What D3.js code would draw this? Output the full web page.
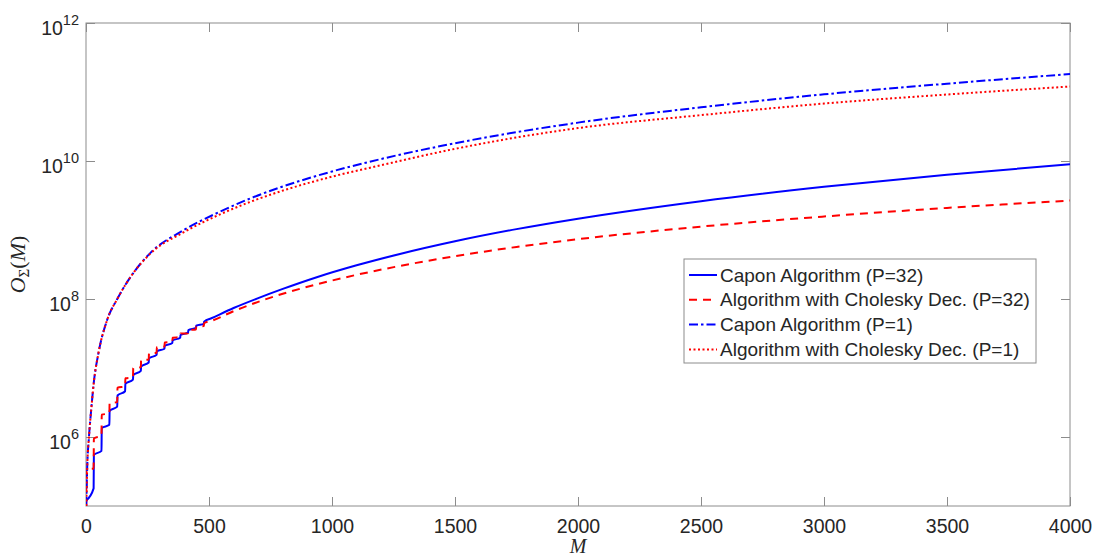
<!DOCTYPE html>
<meta charset="utf-8">
<html lang="en">
<head>
<meta charset="utf-8">
<title>Complexity vs M</title>
<script src="https://cdn.jsdelivr.net/npm/d3@7/dist/d3.min.js"></script>
<style type="text/css">
body { margin: 0; background: #fff; }
.axis text { font-family: "Liberation Sans", Arial, sans-serif; fill: #262626; }
.axis line { stroke: #8c8c8c; }
.frame { fill: none; stroke: #8c8c8c; stroke-width: 1px; }
.series { fill: none; stroke-width: 2px; }
.legend text { font-family: "Liberation Sans", Arial, sans-serif; font-size: 19px; fill: #262626; }
.label { font-family: "Liberation Serif", "DejaVu Serif", serif; fill: #262626; }
</style>
</head>
<body>
<div id="chart"></div>
<script type="text/javascript">
"use strict";

var width = 1095, height = 557;
var plotLeft = 86, plotRight = 1070, plotTop = 23, plotBottom = 506;

// data: [M, O(M)]
var caponP32 = [
  [1, 1.2e5], [31, 1.8e5], [32, 5.5e5], [63, 6.3e5], [64, 1.35e6], [95, 1.5e6],
  [96, 2.4e6], [127, 2.75e6], [128, 4.0e6], [159, 4.6e6], [160, 5.9e6], [191, 6.8e6],
  [192, 7.9e6], [223, 9.1e6], [224, 1.05e7], [255, 1.2e7], [256, 1.38e7], [287, 1.55e7],
  [288, 1.74e7], [319, 1.9e7], [320, 2.1e7], [351, 2.3e7], [352, 2.5e7], [383, 2.75e7],
  [384, 3.0e7], [415, 3.25e7], [416, 3.55e7], [447, 3.8e7], [448, 4.1e7], [479, 4.35e7],
  [480, 4.7e7], [512, 5.3e7], [600, 7.4e7], [700, 1.03e8], [800, 1.4e8],
  [938, 2.07e8], [1100, 3.08e8], [1276, 4.5e8], [1500, 6.87e8], [1750, 1.03e9], [2000, 1.46e9],
  [2500, 2.62e9], [3000, 4.23e9], [3500, 6.32e9], [4000, 8.98e9]
];
var choleskyP32 = [
  [1, 1.0e5], [2, 3.4e5], [31, 3.5e5], [32, 9.5e5], [63, 1.05e6], [64, 2.1e6], [95, 2.2e6],
  [96, 3.1e6], [127, 3.2e6], [128, 5.2e6], [159, 5.4e6], [160, 7.1e6], [191, 7.3e6],
  [192, 1.0e7], [223, 1.03e7], [224, 1.3e7], [255, 1.33e7], [256, 1.62e7], [287, 1.66e7],
  [288, 2.0e7], [319, 2.05e7], [320, 2.35e7], [351, 2.4e7], [352, 2.75e7], [383, 2.8e7],
  [384, 3.15e7], [415, 3.2e7], [416, 3.55e7], [447, 3.6e7], [448, 4.0e7], [479, 4.05e7],
  [480, 4.45e7], [512, 4.85e7], [600, 6.67e7], [700, 9.1e7], [800, 1.19e8],
  [938, 1.63e8], [1100, 2.24e8], [1256, 2.92e8], [1500, 4.17e8], [1750, 5.68e8], [2000, 7.36e8],
  [2500, 1.12e9], [3000, 1.57e9], [3500, 2.09e9], [4000, 2.67e9]
];
var caponP1 = [
  [1, 1.0e5], [5, 3.7e5], [12, 1.0e6], [21, 2.45e6], [32, 6.3e6], [50, 1.6e7], [87, 5.1e7],
  [127, 1.0e8], [195, 2.45e8], [263, 4.7e8], [398, 1.0e9], [534, 1.77e9], [667, 2.86e9],
  [805, 4.33e9], [1000, 7.05e9], [1200, 1.07e10], [1500, 1.81e10], [2000, 3.6e10],
  [2500, 6.0e10], [3000, 9.25e10], [3500, 1.32e11], [4000, 1.82e11]
];
var choleskyP1 = [
  [1, 1.0e5], [5, 3.7e5], [12, 1.0e6], [21, 2.45e6], [32, 6.3e6], [50, 1.6e7], [87, 5.1e7],
  [127, 1.0e8], [195, 2.45e8], [263, 4.6e8], [398, 9.3e8], [534, 1.62e9], [667, 2.55e9],
  [805, 3.77e9], [1000, 5.93e9], [1200, 8.7e9], [1500, 1.5e10], [2000, 3.0e10],
  [2500, 4.62e10], [3000, 6.8e10], [3500, 9.2e10], [4000, 1.2e11]
];

var xTicks = [0, 500, 1000, 1500, 2000, 2500, 3000, 3500, 4000];
var yTicks = [1e6, 1e8, 1e10, 1e12];

var legendLabels = [
  "Capon Algorithm (P=32)",
  "Algorithm with Cholesky Dec. (P=32)",
  "Capon Algorithm (P=1)",
  "Algorithm with Cholesky Dec. (P=1)"
];

var series = [
  {data: caponP32, color: "#0000ff", dash: null},
  {data: choleskyP32, color: "#ff0000", dash: "8,6"},
  {data: caponP1, color: "#0000ff", dash: "9,3,2.5,3"},
  {data: choleskyP1, color: "#ff0000", dash: "2,2.5"}
];

var x = d3.scaleLinear().domain([0, 4000]).range([plotLeft, plotRight]);
var y = d3.scaleLog().domain([1e5, 1e12]).range([plotBottom, plotTop]);

var svg = d3.select("#chart").append("svg")
    .attr("width", width)
    .attr("height", height);

svg.append("defs").append("clipPath").attr("id", "plotclip")
  .append("rect")
    .attr("x", plotLeft).attr("y", plotTop)
    .attr("width", plotRight - plotLeft).attr("height", plotBottom - plotTop);

// axes, ticks pointing inward on all four sides
var gx = svg.append("g").attr("class", "axis")
    .attr("transform", "translate(0," + plotBottom + ")")
    .call(d3.axisBottom(x).tickValues(xTicks).tickSize(-9).tickPadding(13).tickFormat(d3.format("d")));
gx.selectAll("text").style("font-size", "19.5px");

svg.append("g").attr("class", "axis")
    .attr("transform", "translate(0," + plotTop + ")")
    .call(d3.axisTop(x).tickValues(xTicks).tickSize(-9).tickFormat(""));

var gy = svg.append("g").attr("class", "axis")
    .attr("transform", "translate(" + plotLeft + ",0)")
    .call(d3.axisLeft(y).tickValues(yTicks).tickSize(-9).tickPadding(7));

gy.selectAll(".tick text")
    .text(null)
    .attr("dy", null)
    .each(function(d) {
      var t = d3.select(this);
      t.append("tspan").attr("dy", 11.5).style("font-size", "19.5px").text("10");
      t.append("tspan").attr("dy", -10).style("font-size", "14.5px").text(Math.round(Math.log10(d)));
    });

svg.append("g").attr("class", "axis")
    .attr("transform", "translate(" + plotRight + ",0)")
    .call(d3.axisRight(y).tickValues(yTicks).tickSize(-9).tickFormat(""));

svg.selectAll(".axis .domain").remove();

svg.append("rect").attr("class", "frame")
    .attr("x", plotLeft).attr("y", plotTop)
    .attr("width", plotRight - plotLeft).attr("height", plotBottom - plotTop);

// curves
var line = d3.line()
    .x(function(d) { return x(d[0]); })
    .y(function(d) { return y(d[1]); })
    .curve(d3.curveMonotoneX);

var plot = svg.append("g").attr("clip-path", "url(#plotclip)");
series.forEach(function(s) {
  plot.append("path")
      .datum(s.data)
      .attr("class", "series")
      .attr("stroke", s.color)
      .attr("stroke-dasharray", s.dash)
      .attr("d", line);
});

// axis labels
svg.append("text").attr("class", "label")
    .attr("x", (plotLeft + plotRight) / 2).attr("y", 553)
    .attr("text-anchor", "middle")
    .style("font-size", "20px").style("font-style", "italic")
    .text("M");

var yl = svg.append("text").attr("class", "label")
    .attr("transform", "translate(25," + (plotTop + plotBottom) / 2 + ") rotate(-90)")
    .attr("text-anchor", "middle")
    .style("font-size", "22px");
yl.append("tspan").style("font-style", "italic").text("O");
yl.append("tspan").attr("dy", 4).style("font-size", "15px").text("Σ");
yl.append("tspan").attr("dy", -4).text("(");
yl.append("tspan").style("font-style", "italic").text("M");
yl.append("tspan").text(")");

// legend
var lg = svg.append("g").attr("class", "legend");
lg.append("rect")
    .attr("x", 684).attr("y", 259)
    .attr("width", 352).attr("height", 104)
    .attr("fill", "#fff").attr("stroke", "#8c8c8c");

var items = lg.selectAll(".item")
    .data(series)
  .enter().append("g")
    .attr("class", "item")
    .attr("transform", function(d, i) { return "translate(0," + (275 + i * 24.8) + ")"; });

items.append("line")
    .attr("x1", 689).attr("x2", 717)
    .attr("stroke", function(d) { return d.color; })
    .attr("stroke-width", 2)
    .attr("stroke-dasharray", function(d) { return d.dash; });

items.append("text")
    .attr("x", 720).attr("dy", "0.35em")
    .text(function(d, i) { return legendLabels[i]; });
</script>
</body>
</html>
